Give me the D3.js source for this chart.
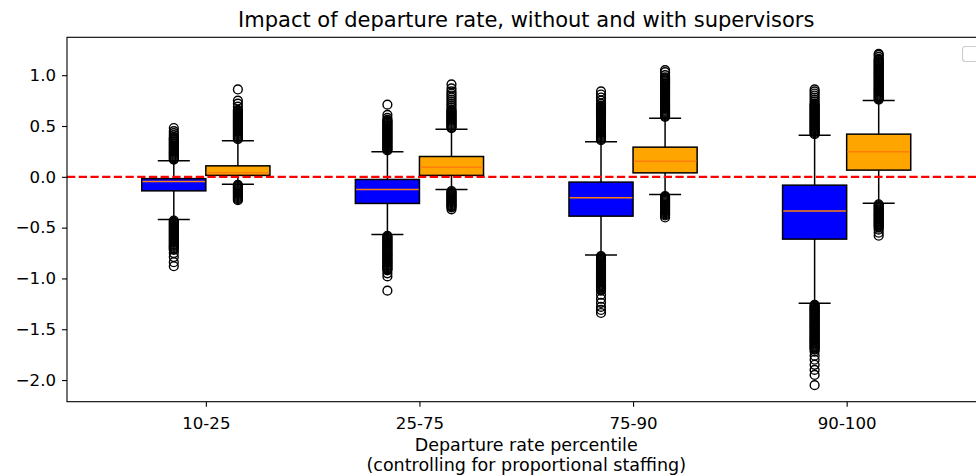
<!DOCTYPE html>
<html>
<head>
<meta charset="utf-8">
<script src="https://cdn.jsdelivr.net/npm/d3@7"></script>
<style>
  html, body { margin: 0; padding: 0; background: #fff; }
  svg { display: block; }
  text { font-family: "DejaVu Sans", sans-serif; fill: #000; }
</style>
</head>
<body>
<svg id="chart" width="976" height="476"></svg>
<script>
// ---------------- DATA ----------------
const categories = ["10-25", "25-75", "75-90", "90-100"];
const seriesNames = ["without supervisors", "with supervisors"];
const seriesColors = ["#0000ff", "#ffa500"];
const yTickValues = [-2.0, -1.5, -1.0, -0.5, 0.0, 0.5, 1.0];

// box statistics per category: [whiskerLow, q1, median, q3, whiskerHigh]
const statsWithout = [
  [-0.419, -0.138, -0.045, -0.018, 0.157],
  [-0.567, -0.262, -0.124, -0.026, 0.246],
  [-0.770, -0.387, -0.207, -0.052, 0.344],
  [-1.245, -0.613, -0.337, -0.082, 0.410]
];
const statsWith = [
  [-0.072, 0.014, 0.040, 0.108, 0.354],
  [-0.124, 0.014, 0.095, 0.200, 0.469],
  [-0.173, 0.039, 0.154, 0.292, 0.577],
  [-0.259, 0.066, 0.246, 0.420, 0.751]
];

// outliers (fliers) per category
const outliersWithout = [
  [0.17,0.18,0.19,0.20,0.21,0.22,0.23,0.24,0.25,0.26,0.27,0.28,0.29,0.30,0.31,0.32,0.33,0.34,0.35,0.36,0.37,0.38,0.39,0.41,0.43,0.45,0.48,
   -0.43,-0.44,-0.45,-0.46,-0.47,-0.48,-0.49,-0.50,-0.51,-0.52,-0.53,-0.54,-0.55,-0.56,-0.57,-0.58,-0.59,-0.60,-0.61,-0.62,-0.63,-0.64,-0.65,-0.66,-0.67,-0.68,-0.69,-0.70,-0.71,-0.72,-0.75,-0.79,-0.84,-0.88],
  [0.26,0.27,0.28,0.29,0.30,0.31,0.32,0.33,0.34,0.35,0.36,0.37,0.38,0.39,0.40,0.41,0.42,0.43,0.44,0.45,0.46,0.47,0.48,0.49,0.50,0.51,0.52,0.53,0.54,0.55,0.56,0.58,0.61,0.71,
   -0.58,-0.59,-0.60,-0.61,-0.62,-0.63,-0.64,-0.65,-0.66,-0.67,-0.68,-0.69,-0.70,-0.71,-0.72,-0.73,-0.74,-0.75,-0.76,-0.77,-0.78,-0.79,-0.80,-0.81,-0.82,-0.83,-0.84,-0.85,-0.86,-0.87,-0.88,-0.89,-0.90,-0.91,-0.92,-0.95,-0.98,-1.12],
  [0.36,0.37,0.38,0.39,0.40,0.41,0.42,0.43,0.44,0.45,0.46,0.47,0.48,0.49,0.50,0.51,0.52,0.53,0.54,0.55,0.56,0.57,0.58,0.59,0.60,0.61,0.62,0.63,0.64,0.65,0.66,0.67,0.68,0.69,0.70,0.72,0.75,0.78,0.81,0.84,
   -0.78,-0.79,-0.80,-0.81,-0.82,-0.83,-0.84,-0.85,-0.86,-0.87,-0.88,-0.89,-0.90,-0.91,-0.92,-0.93,-0.94,-0.95,-0.96,-0.97,-0.98,-0.99,-1.00,-1.01,-1.02,-1.03,-1.04,-1.05,-1.06,-1.07,-1.08,-1.09,-1.10,-1.11,-1.12,-1.16,-1.20,-1.24,-1.28,-1.31,-1.34],
  [0.42,0.43,0.44,0.45,0.46,0.47,0.48,0.49,0.50,0.51,0.52,0.53,0.54,0.55,0.56,0.57,0.58,0.59,0.60,0.61,0.62,0.63,0.64,0.65,0.66,0.67,0.68,0.69,0.70,0.71,0.72,0.74,0.76,0.78,0.80,0.82,0.84,0.86,
   -1.26,-1.27,-1.28,-1.29,-1.30,-1.31,-1.32,-1.33,-1.34,-1.35,-1.36,-1.37,-1.38,-1.39,-1.40,-1.41,-1.42,-1.43,-1.44,-1.45,-1.46,-1.47,-1.48,-1.49,-1.50,-1.51,-1.52,-1.53,-1.54,-1.55,-1.56,-1.57,-1.58,-1.59,-1.60,-1.61,-1.62,-1.63,-1.64,-1.65,-1.66,-1.67,-1.68,-1.69,-1.70,-1.72,-1.76,-1.80,-1.85,-1.90,-1.95,-2.05]
];
const outliersWith = [
  [0.37,0.38,0.39,0.40,0.41,0.42,0.43,0.44,0.45,0.46,0.47,0.48,0.49,0.50,0.51,0.52,0.53,0.54,0.55,0.56,0.57,0.58,0.59,0.60,0.61,0.62,0.63,0.64,0.65,0.66,0.69,0.72,0.75,0.86,
   -0.08,-0.09,-0.10,-0.11,-0.12,-0.13,-0.14,-0.15,-0.16,-0.17,-0.18,-0.19,-0.20,-0.21,-0.22,-0.23],
  [0.48,0.49,0.50,0.51,0.52,0.53,0.54,0.55,0.56,0.57,0.58,0.59,0.60,0.61,0.62,0.63,0.64,0.65,0.66,0.68,0.70,0.72,0.74,0.76,0.78,0.80,0.82,0.84,0.87,0.91,
   -0.14,-0.15,-0.16,-0.17,-0.18,-0.19,-0.20,-0.21,-0.22,-0.23,-0.24,-0.25,-0.26,-0.27,-0.28,-0.29,-0.30,-0.32],
  [0.59,0.60,0.61,0.62,0.63,0.64,0.65,0.66,0.67,0.68,0.69,0.70,0.71,0.72,0.73,0.74,0.75,0.76,0.77,0.78,0.79,0.80,0.81,0.82,0.83,0.84,0.85,0.86,0.87,0.88,0.89,0.90,0.91,0.92,0.93,0.94,0.95,0.96,0.97,0.98,1.00,1.03,1.05,
   -0.19,-0.20,-0.21,-0.22,-0.23,-0.24,-0.25,-0.26,-0.27,-0.28,-0.29,-0.30,-0.31,-0.32,-0.33,-0.34,-0.35,-0.36,-0.37,-0.38,-0.40],
  [0.76,0.77,0.78,0.79,0.80,0.81,0.82,0.83,0.84,0.85,0.86,0.87,0.88,0.89,0.90,0.91,0.92,0.93,0.94,0.95,0.96,0.97,0.98,0.99,1.00,1.01,1.02,1.03,1.04,1.05,1.06,1.07,1.08,1.09,1.10,1.11,1.12,1.13,1.14,1.15,1.16,1.18,1.20,1.21,
   -0.27,-0.28,-0.29,-0.30,-0.31,-0.32,-0.33,-0.34,-0.35,-0.36,-0.37,-0.38,-0.39,-0.40,-0.41,-0.42,-0.43,-0.44,-0.45,-0.46,-0.47,-0.48,-0.49,-0.50,-0.52,-0.55,-0.58]
];

const titleText = "Impact of departure rate, without and with supervisors";
const xLabelLines = ["Departure rate percentile", "(controlling for proportional staffing)"];
const referenceLine = 0.0;

// ---------------- LAYOUT ----------------
const svg = d3.select("#chart");
const plot = { left: 67, right: 985.5, top: 37.3, bottom: 401.7 };
const boxWidth = 0.3, offset = 0.15;

const x = d3.scaleLinear().domain([0.35, categories.length + 0.65]).range([plot.left, plot.right]);

const allVals = [];
[statsWithout, statsWith, outliersWithout, outliersWith].forEach(a => a.forEach(r => r.forEach(v => allVals.push(v))));
const [vmin, vmax] = d3.extent(allVals);
const pad = (vmax - vmin) * 0.05;
const y = d3.scaleLinear().domain([vmin - pad, vmax + pad]).range([plot.bottom, plot.top]);

const g = svg.append("g");
svg.append("clipPath").attr("id", "plotclip")
  .append("rect").attr("x", plot.left).attr("y", plot.top)
  .attr("width", plot.right - plot.left).attr("height", plot.bottom - plot.top);

const series = [
  { stats: statsWithout, outliers: outliersWithout, color: seriesColors[0], dx: -offset },
  { stats: statsWith, outliers: outliersWith, color: seriesColors[1], dx: offset }
];

const lw = 1.5;
const content = g.append("g").attr("clip-path", "url(#plotclip)");

series.forEach(s => {
  s.stats.forEach((st, i) => {
    const pos = i + 1 + s.dx;
    const [lo, q1, med, q3, hi] = st;
    const xl = x(pos - boxWidth / 2), xr = x(pos + boxWidth / 2), xc = x(pos);
    const capL = x(pos - boxWidth / 4), capR = x(pos + boxWidth / 4);
    const bg = content.append("g");
    bg.append("rect")
      .attr("x", xl).attr("y", y(q3))
      .attr("width", xr - xl).attr("height", y(q1) - y(q3))
      .attr("fill", s.color).attr("stroke", "#000").attr("stroke-width", lw);
    bg.append("line").attr("x1", xc).attr("x2", xc).attr("y1", y(q1)).attr("y2", y(lo))
      .attr("stroke", "#000").attr("stroke-width", lw);
    bg.append("line").attr("x1", xc).attr("x2", xc).attr("y1", y(q3)).attr("y2", y(hi))
      .attr("stroke", "#000").attr("stroke-width", lw);
    [lo, hi].forEach(v => {
      bg.append("line").attr("x1", capL).attr("x2", capR).attr("y1", y(v)).attr("y2", y(v))
        .attr("stroke", "#000").attr("stroke-width", lw);
    });
    bg.append("line").attr("x1", xl + 0.7).attr("x2", xr - 0.7).attr("y1", y(med)).attr("y2", y(med))
      .attr("stroke", "#ff7f0e").attr("stroke-width", lw);
    bg.selectAll("circle.flier").data(s.outliers[i]).join("circle")
      .attr("class", "flier")
      .attr("cx", xc).attr("cy", d => y(d)).attr("r", 4.4)
      .attr("fill", "none").attr("stroke", "#000").attr("stroke-width", 1.4);
  });
});

// reference line
content.append("line")
  .attr("x1", plot.left).attr("x2", plot.right)
  .attr("y1", y(referenceLine)).attr("y2", y(referenceLine))
  .attr("stroke", "#ff0000").attr("stroke-width", 2.2)
  .attr("stroke-dasharray", "8.3,3.4");

// axes
const fontTick = 16.6;
const yAxis = d3.axisLeft(y).tickValues(yTickValues).tickSize(5).tickPadding(6)
  .tickFormat(d => d3.format(".1f")(d).replace("-", "\u2212"));
const yg = g.append("g").attr("transform", `translate(${plot.left},0)`).call(yAxis);
yg.select(".domain").remove();
yg.selectAll(".tick line").attr("stroke", "#000").attr("stroke-width", 1.1);
yg.selectAll(".tick text").attr("font-size", fontTick).attr("font-family", "DejaVu Sans").attr("fill", "#000");

const xAxis = d3.axisBottom(x).tickValues(categories.map((c, i) => i + 1)).tickSize(5).tickPadding(11)
  .tickFormat((d, i) => categories[i]);
const xg = g.append("g").attr("transform", `translate(0,${plot.bottom})`).call(xAxis);
xg.select(".domain").remove();
xg.selectAll(".tick line").attr("stroke", "#000").attr("stroke-width", 1.1);
xg.selectAll(".tick text").attr("font-size", fontTick).attr("font-family", "DejaVu Sans").attr("fill", "#000");

// spines
g.append("rect").attr("x", plot.left).attr("y", plot.top)
  .attr("width", plot.right - plot.left).attr("height", plot.bottom - plot.top)
  .attr("fill", "none").attr("stroke", "#000").attr("stroke-width", 1.1);

// title
g.append("text").attr("x", (plot.left + plot.right) / 2).attr("y", 27)
  .attr("text-anchor", "middle").attr("font-size", 21).text(titleText);

// x label
xLabelLines.forEach((t, i) => {
  g.append("text").attr("x", (plot.left + plot.right) / 2).attr("y", 451 + i * 19.6)
    .attr("text-anchor", "middle").attr("font-size", 17.5).text(t);
});

// empty legend frame
g.append("rect").attr("x", 962.5).attr("y", 46.5).attr("width", 18).attr("height", 15)
  .attr("rx", 3).attr("fill", "#fff").attr("fill-opacity", 0.8)
  .attr("stroke", "#cccccc").attr("stroke-width", 1.1);
</script>
</body>
</html>
